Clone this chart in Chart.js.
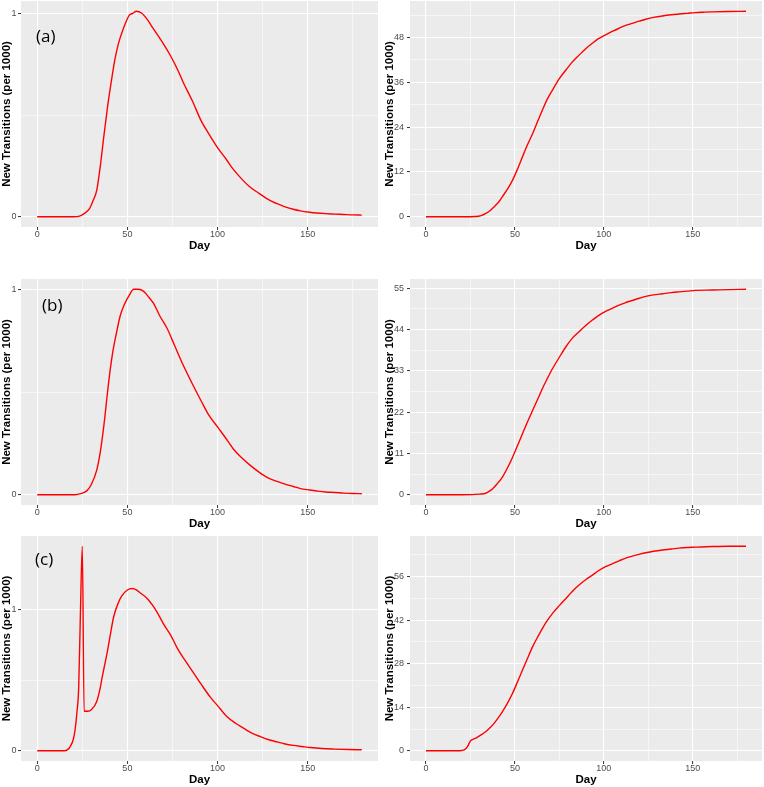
<!DOCTYPE html>
<html>
<head>
<meta charset="utf-8">
<script src="https://cdn.jsdelivr.net/npm/chart.js@4"></script>
<style>
  body { margin: 0; background: #fff; }
  #wrap { position: relative; width: 764px; height: 787px; }
  canvas { position: absolute; }
  .tag { position: absolute; font-family: "Open Sans", sans-serif; font-size: 17px; line-height: 17px; color: #000; }
</style>
</head>
<body>
<div id="wrap">
  <canvas id="a1" width="380" height="258" style="left:0;top:0"></canvas>
  <canvas id="a2" width="384" height="258" style="left:380px;top:0"></canvas>
  <canvas id="b1" width="380" height="257" style="left:0;top:279px"></canvas>
  <canvas id="b2" width="384" height="257" style="left:380px;top:279px"></canvas>
  <canvas id="c1" width="380" height="251" style="left:0;top:536px"></canvas>
  <canvas id="c2" width="384" height="251" style="left:380px;top:536px"></canvas>
  <div class="tag" style="left:36px;top:27px">(a)</div>
  <div class="tag" style="left:42px;top:296px">(b)</div>
  <div class="tag" style="left:35px;top:550px">(c)</div>
</div>
<script>
// values, day -> new transitions (per 1000)
const daysA1 = [0,10,20,23,26,29,31,33,35,37,39,41,43,45,48,51,53,55,58,61,64,67,70,74,78,81,86,91,95,100,105,109,114,118,123,128,133,137,142,146,151,155,160,165,170,175,180];
const valsA1 = [0,0,0,0.002,0.015,0.04,0.08,0.13,0.25,0.40,0.54,0.66,0.77,0.85,0.93,0.99,1.0,1.01,1.0,0.97,0.93,0.89,0.85,0.79,0.72,0.66,0.57,0.47,0.41,0.34,0.28,0.23,0.18,0.146,0.115,0.085,0.064,0.05,0.037,0.029,0.022,0.018,0.015,0.013,0.011,0.009,0.008];

const daysA2 = [0,10,20,28,31,33.7,36,38.4,41,43,46,48.7,51.5,54.3,57,60,63,65.5,68,71.2,75,78.7,82,86.1,90,93.6,97,101,105,108.6,112,116,120,123.6,128,133,138,142.3,147,151.7,156,161,170,180];
const valsA2 = [0,0,0,0.05,0.3,0.9,1.6,2.7,4.0,5.4,7.5,9.8,12.8,16.1,19.2,22.3,25.8,28.6,31.3,34,37,39.3,41.3,43.3,45.1,46.5,47.7,48.7,49.7,50.5,51.2,51.8,52.4,52.9,53.4,53.8,54.1,54.3,54.5,54.7,54.8,54.9,55.0,55.05];

const daysB1 = [0,10,21,24,27.6,30,33,35,37,39,40.5,42,44,46,48,51,53.5,56,59,62,64.6,68,72,76,81,86,91,95,100,105,109,114,118,123,128,133,137,142,146,151,155,160,165,170,175,180];
const valsB1 = [0,0,0,0.005,0.02,0.05,0.12,0.21,0.34,0.50,0.61,0.70,0.79,0.87,0.92,0.97,1.0,1.0,0.99,0.96,0.93,0.87,0.81,0.73,0.63,0.54,0.455,0.39,0.33,0.27,0.22,0.175,0.144,0.11,0.082,0.065,0.053,0.04,0.03,0.023,0.018,0.013,0.011,0.008,0.006,0.005];

const daysB2 = [0,10,20,26,30,33.7,35.5,37.5,40,43,46,48.7,51.5,54.3,57,60,63,65.5,68,71.2,75,78.7,82,86.1,90,93.6,97,101,105,108.6,112,116,120,123.6,128,133,138,142.3,147,151.7,161,170,180];
const valsB2 = [0,0,0,0.02,0.15,0.4,0.9,1.6,2.9,4.7,7.3,10,13.1,16.3,19.3,22.5,25.6,28.3,30.7,33.6,36.6,39.4,41.5,43.4,45.1,46.5,47.7,48.8,49.7,50.5,51.1,51.7,52.3,52.8,53.2,53.5,53.8,54.0,54.2,54.4,54.5,54.6,54.7];

const daysC1 = [0,10,15,17,18.3,20,21,22,23,24,25,26,28,30,33,35,36,38.7,40.5,42.4,45,47,50,52.6,55,57,61,64.6,67,70,74,77.6,82,86.8,91,96,100,105,110,114.4,119,123.7,128,133,137,142,147,151.5,158,165,172,180];
const valsC1 = [0,0,0,0.01,0.03,0.08,0.15,0.27,0.45,1.0,1.45,0.28,0.28,0.29,0.35,0.45,0.52,0.69,0.82,0.95,1.05,1.10,1.14,1.15,1.14,1.12,1.08,1.02,0.97,0.90,0.82,0.73,0.64,0.55,0.47,0.38,0.32,0.245,0.195,0.16,0.125,0.10,0.08,0.063,0.05,0.038,0.03,0.023,0.016,0.012,0.009,0.007];

const daysC2 = [0,10,18.7,20,21.5,22.5,23.4,24.2,25,26.5,28.1,31,33.7,36,38.4,41,43,46,48.7,51.5,54.3,57,60,63,65.5,68,71.2,75,78.7,82,86.1,90,93.6,97,101,105,108.6,112,116,120,123.6,128,133,138,142.3,147,151.7,161,170,180];
const valsC2 = [0,0,0,0.1,0.3,0.7,1.4,2.3,3.2,3.7,4.1,5.1,6.2,7.4,8.9,10.9,12.6,15.5,18.5,22.2,26.0,29.6,33.5,36.8,39.4,41.7,44.2,46.7,49.0,51.1,53.3,55.1,56.5,57.9,59.2,60.2,61.1,61.9,62.6,63.2,63.7,64.2,64.6,64.9,65.2,65.4,65.5,65.7,65.8,65.8];

const xMajor = [0, 50, 100, 150];
const xMinor = [25, 75, 125, 175];
const yMajorLeft = [0, 1];
const yMinorLeft = [0.5];
const yMajorA2 = [0, 12, 24, 36, 48];
const yMajorB2 = [0, 11, 22, 33, 44, 55];
const yMajorC2 = [0, 14, 28, 42, 56];

const yTitle = 'New Transitions (per 1000)';
const xTitle = 'Day';

const FONT = '"Liberation Sans", Arial, sans-serif';

const panelBg = {
  id: 'panelBg',
  beforeDraw(chart) {
    const { ctx, chartArea: a } = chart;
    ctx.save();
    ctx.fillStyle = '#EBEBEB';
    ctx.fillRect(a.left, a.top, a.right - a.left, a.bottom - a.top);
    ctx.restore();
  }
};

function minorsOf(major) {
  const step = major[1] - major[0];
  const out = [];
  for (let i = 0; i < major.length; i++) out.push(major[i] + step / 2);
  return out;
}

// no extra room for half tick labels, the panel edges are fixed
function noPad(s) {
  s.paddingTop = 0;
  s.paddingBottom = 0;
  s.paddingLeft = 0;
  s.paddingRight = 0;
}

function makePanel(id, days, vals, opt) {
  const points = days.map((d, i) => ({ x: d, y: vals[i] }));
  const ymax = Math.max(...vals);
  const xmax = Math.max(...days);
  const yMajor = opt.yMajor;
  const yMinor = opt.yMinor || minorsOf(yMajor);
  const yTicks = yMajor.concat(yMinor).filter(v => v <= ymax * 1.05);
  const xTicks = xMajor.concat(xMinor);
  const isMajor = (list, v) => list.includes(v);

  new Chart(document.getElementById(id), {
    type: 'line',
    data: {
      datasets: [{
        data: points,
        borderColor: '#FF0000',
        borderWidth: 1.4,
        pointRadius: 0,
        fill: false,
        cubicInterpolationMode: 'monotone'
      }]
    },
    options: {
      responsive: false,
      animation: false,
      events: [],
      layout: { padding: { top: opt.padTop, right: 2, left: 0, bottom: 0 } },
      plugins: { legend: { display: false }, tooltip: { enabled: false } },
      scales: {
        x: {
          type: 'linear',
          min: -xmax * 0.05,
          max: xmax * 1.05,
          afterBuildTicks: s => { s.ticks = xTicks.map(v => ({ value: v })); },
          afterFit: s => { s.height = opt.xAxisH; noPad(s); },
          border: { display: false },
          grid: {
            color: '#FFFFFF',
            lineWidth: c => isMajor(xMajor, c.tick.value) ? 1.1 : 0.55,
            drawTicks: true,
            tickLength: 3,
            tickWidth: 1,
            tickColor: c => isMajor(xMajor, c.tick.value) ? '#333333' : 'rgba(0,0,0,0)'
          },
          ticks: {
            autoSkip: false,
            maxRotation: 0,
            padding: -1,
            color: '#4D4D4D',
            font: { family: FONT, size: 9 },
            callback: v => isMajor(xMajor, v) ? String(v) : ''
          },
          title: {
            display: true,
            text: xTitle,
            color: '#000',
            font: { family: FONT, size: 11.5, weight: 'bold' },
            padding: { top: 0, bottom: opt.dayPad }
          }
        },
        y: {
          type: 'linear',
          min: -ymax * 0.05,
          max: ymax * 1.05,
          afterBuildTicks: s => { s.ticks = yTicks.map(v => ({ value: v })); },
          afterFit: s => { s.width = opt.yAxisW; noPad(s); },
          border: { display: false },
          grid: {
            color: '#FFFFFF',
            lineWidth: c => isMajor(yMajor, c.tick.value) ? 1.1 : 0.55,
            drawTicks: true,
            tickLength: 3,
            tickWidth: 1,
            tickColor: c => isMajor(yMajor, c.tick.value) ? '#333333' : 'rgba(0,0,0,0)'
          },
          ticks: {
            autoSkip: false,
            padding: opt.yTickPad,
            color: '#4D4D4D',
            font: { family: FONT, size: 9 },
            callback: v => isMajor(yMajor, v) ? String(v) : ''
          },
          title: {
            display: true,
            text: yTitle,
            color: '#000',
            font: { family: FONT, size: 11.5, weight: 'bold' },
            padding: { top: opt.yTitlePad, bottom: 0 }
          }
        }
      }
    },
    plugins: [panelBg]
  });
}

const left = { yAxisW: 21, yTickPad: 1.5, yTitlePad: 0 };
const right = { yAxisW: 30, yTickPad: 3, yTitlePad: 3 };
const row1 = { padTop: 1, xAxisH: 31, dayPad: 5 };
const row2 = { padTop: 0, xAxisH: 31, dayPad: 5 };
const row3 = { padTop: 0, xAxisH: 26, dayPad: 0 };

makePanel('a1', daysA1, valsA1, { ...left, ...row1, yMajor: yMajorLeft, yMinor: yMinorLeft });
makePanel('a2', daysA2, valsA2, { ...right, ...row1, yMajor: yMajorA2 });
makePanel('b1', daysB1, valsB1, { ...left, ...row2, yMajor: yMajorLeft, yMinor: yMinorLeft });
makePanel('b2', daysB2, valsB2, { ...right, ...row2, yMajor: yMajorB2 });
makePanel('c1', daysC1, valsC1, { ...left, ...row3, yMajor: yMajorLeft, yMinor: yMinorLeft });
makePanel('c2', daysC2, valsC2, { ...right, ...row3, yMajor: yMajorC2 });
</script>
</body>
</html>
